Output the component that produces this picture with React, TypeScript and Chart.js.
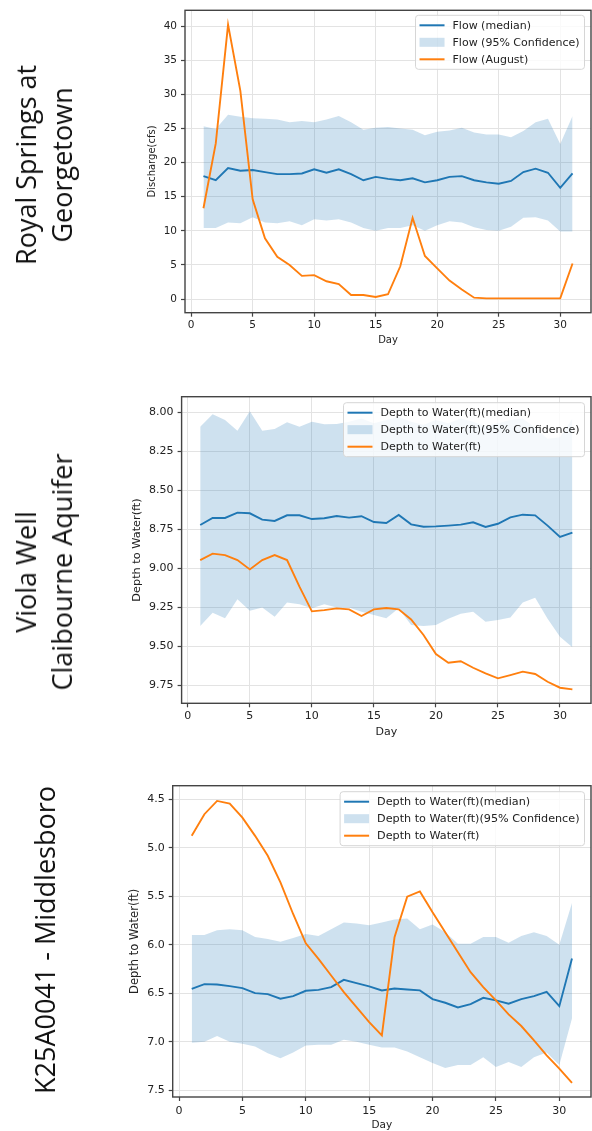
import React, { useEffect, useRef } from "react";
import { Chart, registerables } from "chart.js";

Chart.register(...registerables);

// ---------- shared axis data ----------
const days = [1, 2, 3, 4, 5, 6, 7, 8, 9, 10, 11, 12, 13, 14, 15, 16, 17, 18, 19, 20, 21, 22, 23, 24, 25, 26, 27, 28, 29, 30, 31];
const dayTicks = [0, 5, 10, 15, 20, 25, 30];

// ---------- Royal Springs at Georgetown ----------
const flowMedian = [18.0, 17.4, 19.2, 18.8, 18.9, 18.6, 18.3, 18.3, 18.4, 19.0, 18.5, 19.0, 18.3, 17.4, 17.9, 17.6, 17.4, 17.7, 17.1, 17.4, 17.9, 18.0, 17.4, 17.1, 16.9, 17.3, 18.6, 19.1, 18.5, 16.3, 18.4];
const flowUpper = [25.3, 24.9, 27.0, 26.7, 26.5, 26.4, 26.3, 25.9, 26.1, 25.9, 26.3, 26.8, 25.9, 24.8, 25.1, 25.2, 25.0, 24.8, 24.0, 24.5, 24.7, 25.1, 24.4, 24.1, 24.1, 23.7, 24.6, 25.9, 26.4, 22.7, 26.8];
const flowLower = [10.4, 10.4, 11.2, 11.1, 12.0, 11.2, 11.1, 11.4, 10.8, 11.7, 11.5, 11.7, 11.2, 10.4, 10.0, 10.4, 10.4, 10.8, 10.0, 10.8, 11.4, 11.2, 10.5, 10.1, 10.0, 10.6, 11.9, 12.0, 11.5, 9.9, 9.9];
const flowAugust = [13.3, 22.8, 40.2, 30.5, 14.6, 8.9, 6.2, 5.0, 3.4, 3.5, 2.6, 2.2, 0.6, 0.6, 0.3, 0.7, 4.8, 11.9, 6.3, 4.5, 2.7, 1.4, 0.2, 0.1, 0.1, 0.1, 0.1, 0.1, 0.1, 0.1, 5.2];
const flowTicks = [0, 5, 10, 15, 20, 25, 30, 35, 40];

// ---------- Viola Well, Claibourne Aquifer ----------
const violaMedian = [8.723, 8.678, 8.678, 8.644, 8.648, 8.689, 8.697, 8.661, 8.661, 8.685, 8.68, 8.665, 8.676, 8.667, 8.704, 8.71, 8.659, 8.719, 8.734, 8.732, 8.727, 8.721, 8.706, 8.736, 8.715, 8.674, 8.657, 8.661, 8.727, 8.8, 8.772];
const violaUpper = [8.092, 8.013, 8.049, 8.118, 7.994, 8.118, 8.107, 8.064, 8.092, 8.06, 8.077, 8.075, 8.06, 8.04, 8.07, 8.05, 8.03, 8.06, 8.08, 8.05, 8.07, 8.04, 8.06, 8.09, 8.07, 8.05, 8.04, 8.1, 8.17, 8.16, 8.04];
const violaLower = [9.371, 9.286, 9.322, 9.2, 9.273, 9.252, 9.312, 9.22, 9.231, 9.258, 9.231, 9.252, 9.252, 9.279, 9.301, 9.322, 9.258, 9.365, 9.371, 9.365, 9.325, 9.293, 9.279, 9.344, 9.333, 9.316, 9.22, 9.19, 9.325, 9.44, 9.508];
const violaDepth = [8.948, 8.907, 8.916, 8.948, 9.008, 8.948, 8.916, 8.948, 9.119, 9.277, 9.269, 9.258, 9.264, 9.307, 9.264, 9.256, 9.264, 9.329, 9.429, 9.551, 9.607, 9.597, 9.639, 9.675, 9.707, 9.686, 9.664, 9.679, 9.729, 9.767, 9.778];
const violaTicks = [8.0, 8.25, 8.5, 8.75, 9.0, 9.25, 9.5, 9.75];

// ---------- K25A0041 - Middlesboro ----------
const midMedian = [6.454, 6.406, 6.41, 6.427, 6.447, 6.499, 6.509, 6.557, 6.53, 6.475, 6.465, 6.437, 6.362, 6.396, 6.43, 6.471, 6.451, 6.461, 6.471, 6.56, 6.598, 6.646, 6.612, 6.547, 6.574, 6.608, 6.56, 6.53, 6.485, 6.633, 6.142];
const midUpper = [5.9, 5.9, 5.85, 5.84, 5.85, 5.92, 5.94, 5.97, 5.93, 5.89, 5.91, 5.84, 5.77, 5.78, 5.8, 5.77, 5.74, 5.73, 5.84, 5.79, 5.87, 5.99, 5.99, 5.92, 5.92, 5.98, 5.91, 5.87, 5.91, 6.0, 5.57];
const midLower = [7.01, 7.0, 6.94, 7.0, 7.02, 7.05, 7.12, 7.17, 7.11, 7.04, 7.03, 7.03, 6.98, 7.0, 7.03, 7.06, 7.06, 7.1, 7.16, 7.22, 7.27, 7.24, 7.24, 7.16, 7.26, 7.21, 7.26, 7.16, 7.11, 7.24, 6.76];
const midDepth = [4.877, 4.654, 4.517, 4.545, 4.689, 4.877, 5.083, 5.357, 5.683, 5.985, 6.146, 6.317, 6.489, 6.643, 6.797, 6.934, 5.923, 5.505, 5.45, 5.666, 5.871, 6.077, 6.283, 6.437, 6.574, 6.718, 6.838, 6.986, 7.14, 7.277, 7.425];
const midTicks = [4.5, 5.0, 5.5, 6.0, 6.5, 7.0, 7.5];

// ---------- styling ----------
const BLUE = "#1f77b4";
const ORANGE = "#ff7f0e";
const BAND = "rgba(31,119,180,0.22)";
const FONT = "'DejaVu Sans', sans-serif";
const TEXT = "#222";

const toXY = (vals: number[]) => days.map((d, i) => ({ x: d, y: vals[i] }));

const legendPlugin = {
  id: "mplLegend",
  afterDatasetsDraw(chart: any, _args: any, opts: any) {
    const { ctx, chartArea } = chart;
    const items = opts.items as { label: string; kind: string; color: string }[];
    const fs = opts.fontSize;
    ctx.save();
    ctx.font = `${fs}px ${FONT}`;
    const textW = Math.max(...items.map((i) => ctx.measureText(i.label).width));
    const w = 4 + 25 + 8 + textW + 5;
    const h = 54;
    const right = chartArea.right - 6.5;
    const left = right - w;
    const top = chartArea.top + opts.top;
    ctx.beginPath();
    ctx.roundRect(left, top, w, h, 3);
    ctx.fillStyle = "rgba(255,255,255,0.8)";
    ctx.fill();
    ctx.strokeStyle = "#d6d6d6";
    ctx.lineWidth = 1;
    ctx.stroke();
    items.forEach((it, i) => {
      const cy = top + 10 + i * 17;
      if (it.kind === "line") {
        ctx.strokeStyle = it.color;
        ctx.lineWidth = 2;
        ctx.beginPath();
        ctx.moveTo(left + 4, cy);
        ctx.lineTo(left + 29, cy);
        ctx.stroke();
      } else {
        ctx.fillStyle = it.color;
        ctx.fillRect(left + 4, cy - 4.5, 25, 9);
      }
      ctx.fillStyle = TEXT;
      ctx.textBaseline = "middle";
      ctx.textAlign = "left";
      ctx.fillText(it.label, left + 37, cy + 0.5);
    });
    ctx.restore();
  },
};

const framePlugin = {
  id: "mplFrame",
  afterDraw(chart: any) {
    const { ctx, chartArea: a } = chart;
    ctx.save();
    ctx.strokeStyle = "#444";
    ctx.lineWidth = 1.4;
    ctx.strokeRect(a.left, a.top, a.right - a.left, a.bottom - a.top);
    ctx.restore();
  },
};

type Spec = {
  median: number[];
  upper: number[];
  lower: number[];
  obs: number[];
  labels: [string, string, string];
  yTicks: number[];
  yDecimals: number;
  yMin: number;
  yMax: number;
  reverse: boolean;
  yTitle: string;
  padTop: number;
  yWidth: number;
  xHeight: number;
  tickSize: number;
  yTitleSize: number;
  yTitlePad: number;
  xTitleSize: number;
  xTitlePad: number;
  xTickPad: number;
  legendTop: number;
  legendSize: number;
};

function makeConfig(s: Spec): any {
  const tickFont = { family: FONT, size: s.tickSize };
  return {
    type: "line",
    data: {
      datasets: [
        { label: s.labels[0], data: toXY(s.median), borderColor: BLUE, borderWidth: 1.9, pointRadius: 0, fill: false, tension: 0, order: 1 },
        { label: s.labels[1], data: toXY(s.upper), borderColor: "transparent", borderWidth: 0, backgroundColor: BAND, pointRadius: 0, fill: "+1", tension: 0, order: 3 },
        { label: "lower", data: toXY(s.lower), borderColor: "transparent", borderWidth: 0, pointRadius: 0, fill: false, tension: 0, order: 2 },
        { label: s.labels[2], data: toXY(s.obs), borderColor: ORANGE, borderWidth: 1.9, pointRadius: 0, fill: false, tension: 0, order: 0 },
      ],
    },
    options: {
      animation: false,
      responsive: false,
      events: [],
      layout: { padding: { top: s.padTop, right: 1, left: 0, bottom: 0 } },
      plugins: {
        legend: { display: false },
        tooltip: { enabled: false },
        mplLegend: {
          top: s.legendTop,
          fontSize: s.legendSize,
          items: [
            { label: s.labels[0], kind: "line", color: BLUE },
            { label: s.labels[1], kind: "box", color: BAND },
            { label: s.labels[2], kind: "line", color: ORANGE },
          ],
        },
      },
      scales: {
        x: {
          type: "linear",
          min: -0.5,
          max: 32.5,
          afterBuildTicks: (sc: any) => {
            sc.ticks = dayTicks.map((v) => ({ value: v }));
          },
          afterFit: (sc: any) => {
            sc.height = s.xHeight;
          },
          ticks: { font: tickFont, color: TEXT, padding: s.xTickPad, autoSkip: false, maxRotation: 0, callback: (v: any) => String(v) },
          grid: { color: "#e3e3e3", lineWidth: 1, drawTicks: true, tickLength: 4, tickColor: "#444", tickWidth: 1.2 },
          border: { display: false },
          title: { display: true, text: "Day", color: TEXT, font: { family: FONT, size: s.xTitleSize }, padding: { top: 0, bottom: s.xTitlePad } },
        },
        y: {
          type: "linear",
          min: s.yMin,
          max: s.yMax,
          reverse: s.reverse,
          afterBuildTicks: (sc: any) => {
            sc.ticks = s.yTicks.map((v) => ({ value: v }));
          },
          afterFit: (sc: any) => {
            sc.width = s.yWidth;
          },
          ticks: { font: tickFont, color: TEXT, padding: 4, autoSkip: false, callback: (v: any) => Number(v).toFixed(s.yDecimals) },
          grid: { color: "#e3e3e3", lineWidth: 1, drawTicks: true, tickLength: 4, tickColor: "#444", tickWidth: 1.2 },
          border: { display: false },
          title: { display: true, text: s.yTitle, color: TEXT, font: { family: FONT, size: s.yTitleSize }, padding: { top: s.yTitlePad, bottom: 0 } },
        },
      },
    },
    plugins: [legendPlugin, framePlugin],
  };
}

const panels: { top: number; height: number; spec: Spec }[] = [
  {
    top: 0,
    height: 360,
    spec: {
      median: flowMedian, upper: flowUpper, lower: flowLower, obs: flowAugust,
      labels: ["Flow (median)", "Flow (95% Confidence)", "Flow (August)"],
      yTicks: flowTicks, yDecimals: 0, yMin: -2.0, yMax: 42.3, reverse: false,
      yTitle: "Discharge(cfs)", padTop: 9, yWidth: 185, xHeight: 47.3,
      tickSize: 10.5, yTitleSize: 10, yTitlePad: 146, xTitleSize: 10, xTitlePad: 14, xTickPad: 2.7,
      legendTop: 5, legendSize: 11,
    },
  },
  {
    top: 370,
    height: 380,
    spec: {
      median: violaMedian, upper: violaUpper, lower: violaLower, obs: violaDepth,
      labels: ["Depth to Water(ft)(median)", "Depth to Water(ft)(95% Confidence)", "Depth to Water(ft)"],
      yTicks: violaTicks, yDecimals: 2, yMin: 7.9, yMax: 9.867, reverse: true,
      yTitle: "Depth to Water(ft)", padTop: 26.7, yWidth: 181.6, xHeight: 46.7,
      tickSize: 11, yTitleSize: 11.3, yTitlePad: 129.9, xTitleSize: 11, xTitlePad: 11.7, xTickPad: 1.8,
      legendTop: 6, legendSize: 11,
    },
  },
  {
    top: 760,
    height: 371,
    spec: {
      median: midMedian, upper: midUpper, lower: midLower, obs: midDepth,
      labels: ["Depth to Water(ft)(median)", "Depth to Water(ft)(95% Confidence)", "Depth to Water(ft)"],
      yTicks: midTicks, yDecimals: 1, yMin: 4.36, yMax: 7.57, reverse: true,
      yTitle: "Depth to Water(ft)", padTop: 25.7, yWidth: 172.7, xHeight: 34,
      tickSize: 11, yTitleSize: 11.5, yTitlePad: 128.1, xTitleSize: 10.5, xTitlePad: -1, xTickPad: 3.1,
      legendTop: 6, legendSize: 11.2,
    },
  },
];

const sideLabels: { lines: string[]; cx: number; cy: number }[] = [
  { lines: ["Royal Springs at", "Georgetown"], cx: 44.4, cy: 165 },
  { lines: ["Viola Well", "Claibourne Aquifer"], cx: 44.4, cy: 571.7 },
  { lines: ["K25A0041 - Middlesboro"], cx: 44.5, cy: 940 },
];

function ChartPanel({ top, height, spec }: { top: number; height: number; spec: Spec }) {
  const ref = useRef<HTMLCanvasElement | null>(null);
  useEffect(() => {
    if (!ref.current) return;
    const chart = new Chart(ref.current, makeConfig(spec));
    return () => chart.destroy();
  }, [spec]);
  return (
    <canvas
      ref={ref}
      width={592}
      height={height}
      style={{ position: "absolute", left: 0, top, width: 592, height, display: "block" }}
    />
  );
}

export default function App() {
  return (
    <div
      style={{
        position: "absolute",
        left: 0,
        top: 0,
        width: 592,
        height: 1131,
        overflow: "hidden",
        background: "#fff",
      }}
    >
      {panels.map((p, i) => (
        <ChartPanel key={i} top={p.top} height={p.height} spec={p.spec} />
      ))}
      {sideLabels.map((l, i) => (
        <div
          key={i}
          style={{
            position: "absolute",
            left: l.cx,
            top: l.cy,
            transform: "translate(-50%, -50%) rotate(-90deg)",
            whiteSpace: "nowrap",
            textAlign: "center",
            fontFamily: "'Open Sans', sans-serif",
            fontSize: 27,
            lineHeight: "36px",
            color: "#111",
          }}
        >
          {l.lines.map((t, j) => (
            <div key={j}>{t}</div>
          ))}
        </div>
      ))}
    </div>
  );
}
